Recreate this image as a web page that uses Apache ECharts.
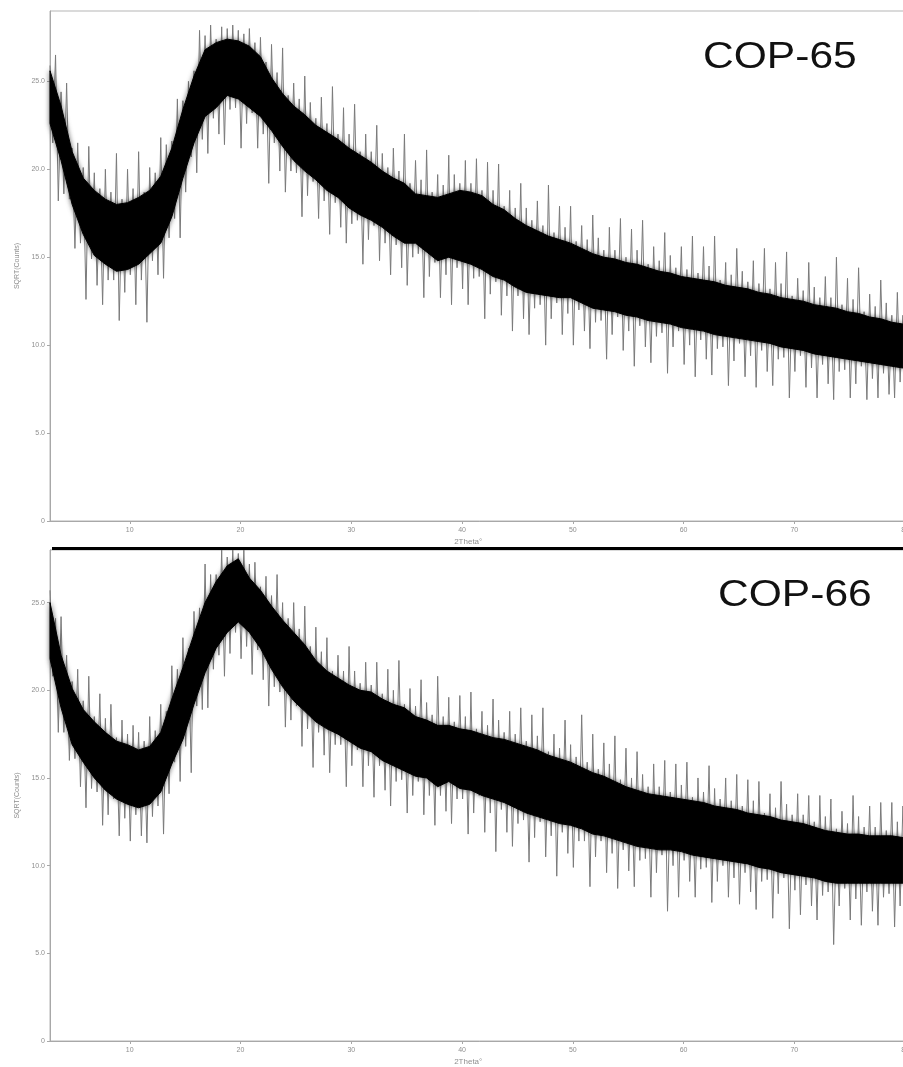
<!DOCTYPE html>
<html>
<head>
<meta charset="utf-8">
<script src="https://cdn.jsdelivr.net/npm/echarts@6/dist/echarts.min.js"></script>
<style>
html,body{margin:0;padding:0;background:#fff;overflow:hidden;width:903px;height:1067px;}
#chart{width:912px;height:1067px;}
</style>
</head>
<body>
<div id="chart"></div>
<script>
// ---- data ----
const panelLabels = ['COP-65', 'COP-66'];
const xTickValues = [10, 20, 30, 40, 50, 60, 70, 80];
const yTickValues = [0, 5, 10, 15, 20, 25];
const xAxisTitle = '2Theta°';
const yAxisTitle = 'SQRT(Counts)';
const xStart = 2.8;       // first sampled 2θ
const coreStep = 1;       // core band sampled every 1°
const spikeStep = 0.25;   // spike trace sampled every 0.25°

// COP-65 dense (black) band, lower and upper edge, 1° apart
const core65Low = [22.6,20.5,18.0,16.3,15.1,14.6,14.2,14.3,14.6,15.2,15.8,17.3,19.5,21.5,23.0,23.5,24.2,24.0,23.5,23.0,22.2,21.3,20.5,19.9,19.4,18.8,18.4,17.8,17.4,17.1,16.7,16.2,15.8,15.8,15.3,14.8,15.0,14.8,14.6,14.3,13.9,13.7,13.3,13.0,12.9,12.8,12.7,12.7,12.4,12.1,12.0,11.9,11.7,11.6,11.4,11.3,11.2,11.0,10.9,10.8,10.6,10.5,10.4,10.3,10.2,10.1,9.9,9.8,9.7,9.5,9.4,9.3,9.2,9.1,9.0,8.9,8.8,8.7];
const core65High = [25.6,23.6,21.0,19.5,18.8,18.3,18.0,18.1,18.4,18.8,19.6,21.2,23.4,25.3,26.8,27.2,27.4,27.3,27.0,26.4,25.2,24.3,23.6,23.1,22.5,22.1,21.7,21.2,20.8,20.4,19.9,19.5,19.2,18.6,18.5,18.4,18.6,18.8,18.7,18.5,18.0,17.7,17.2,16.8,16.5,16.2,16.0,15.8,15.5,15.2,15.0,14.9,14.7,14.6,14.4,14.2,14.1,13.9,13.8,13.7,13.6,13.4,13.3,13.2,13.0,12.9,12.7,12.6,12.5,12.3,12.2,12.1,11.9,11.8,11.6,11.5,11.3,11.2];
// COP-65 spike tips (alternating up / down), 0.25° apart
const spikes65 = [
25.9,21.5,26.5,18.2, 24.4,18.6,24.9,18.3, 21.2,15.5,21.5,15.8, 20.1,12.6,21.3,14.9, 19.8,13.4,18.9,12.3,
20.0,13.7,18.7,13.7, 20.9,11.4,18.3,13.0, 20.0,14.0,18.9,12.3, 21.0,13.7,18.7,11.3, 20.1,14.8,19.8,14.0,
21.8,13.8,21.4,16.1, 21.6,17.2,24.0,16.1, 23.9,18.7,25.0,20.7, 25.6,19.8,27.9,21.7, 27.6,20.9,28.2,22.9,
27.4,22.0,28.1,21.4, 28.0,23.4,28.2,23.5, 27.9,21.2,27.7,22.6, 28.0,23.2,27.2,21.2, 27.5,22.0,26.1,19.2,
27.1,21.5,25.5,19.9, 26.9,18.7,24.2,19.9, 24.9,19.8,24.0,17.3, 25.3,18.5,23.8,19.3, 22.9,17.2,24.1,18.2,
22.6,16.3,24.7,18.1, 22.0,16.7,23.5,15.8, 22.0,16.9,23.7,17.1, 21.0,14.6,22.0,16.0, 21.0,16.8,22.5,14.8,
20.9,15.8,20.1,14.0, 21.2,15.7,19.9,14.4, 22.0,13.4,19.2,15.0, 20.5,15.2,19.4,12.7, 21.1,13.9,18.7,14.7,
19.7,12.7,19.1,14.0, 20.8,12.3,19.7,14.4, 19.2,13.2,20.5,12.3, 19.2,13.8,20.6,13.9, 18.8,11.5,20.4,12.9,
18.8,13.6,20.3,11.7, 17.9,12.8,18.8,10.8, 17.8,12.8,19.2,11.5, 17.8,10.6,17.1,12.1, 18.2,12.3,16.8,10.0,
19.1,11.5,16.4,12.4, 17.9,10.6,16.7,11.8, 17.9,10.0,15.9,12.0, 16.8,10.8,16.0,9.8, 17.4,11.3,16.1,11.4,
15.4,9.2,16.7,10.6, 15.4,11.6,17.2,9.7, 15.0,10.8,16.6,8.8, 15.4,11.1,17.1,9.9, 14.6,9.0,15.6,10.5,
14.8,10.7,16.4,8.4, 15.1,9.9,14.4,10.8, 15.6,8.9,14.3,10.0, 16.2,8.2,14.1,10.3, 15.6,9.2,14.5,8.3,
16.2,9.8,13.7,9.9, 14.7,7.7,14.0,9.1, 15.5,10.1,14.2,8.2, 13.6,9.4,14.8,7.6, 13.5,9.7,15.5,8.5,
13.2,7.7,14.7,9.2, 13.5,9.3,15.3,7.0, 12.8,8.5,13.8,9.4, 13.1,7.6,14.7,8.7, 13.3,7.0,12.7,8.9,
13.9,7.8,12.7,6.9, 15.0,8.5,12.3,8.6, 13.8,7.0,12.6,7.8, 14.4,8.8,11.9,6.9, 12.9,8.1,12.2,7.0,
13.7,8.4,12.4,7.2, 11.7,7.0,13.0,7.9, 11.7,8.1,14.1
];

// COP-66 dense (black) band, lower and upper edge, 1° apart
const core66Low = [21.8,19.0,16.9,15.9,15.0,14.3,13.8,13.5,13.3,13.5,14.2,15.8,17.2,19.2,21.0,22.4,23.3,23.9,23.3,22.4,21.2,20.2,19.4,18.8,18.2,17.8,17.5,17.1,16.7,16.5,16.0,15.7,15.4,15.1,15.0,14.5,14.8,14.4,14.3,14.0,13.8,13.6,13.3,13.0,12.8,12.6,12.4,12.3,12.1,11.8,11.7,11.5,11.3,11.1,11.0,10.9,10.9,10.8,10.6,10.5,10.4,10.3,10.2,10.1,9.9,9.8,9.6,9.5,9.4,9.3,9.1,9.0,9.0,9.0,9.0,9.0,9.0,9.0];
const core66High = [25.0,22.0,20.1,18.9,18.2,17.6,17.1,16.9,16.6,16.8,17.6,19.5,21.3,23.2,25.0,26.2,27.1,27.5,26.4,25.7,24.8,24.0,23.3,22.6,21.7,21.1,20.7,20.3,20.0,19.9,19.5,19.2,19.0,18.5,18.3,18.0,18.0,17.8,17.7,17.5,17.3,17.2,17.0,16.8,16.6,16.3,16.1,15.9,15.6,15.3,15.1,14.8,14.5,14.3,14.1,14.0,13.9,13.8,13.7,13.6,13.4,13.3,13.2,13.0,12.9,12.8,12.6,12.5,12.4,12.2,12.0,11.9,11.8,11.8,11.7,11.7,11.7,11.6];
// COP-66 spike tips (alternating up / down), 0.25° apart
const spikes66 = [
25.7,20.8,24.1,17.6, 24.2,17.6,22.0,16.0, 20.5,16.1,21.2,14.5, 19.4,13.3,20.8,14.4, 18.5,14.2,19.8,12.3,
18.4,12.9,19.2,13.8, 17.3,11.7,18.3,12.7, 17.5,11.4,18.0,12.9, 17.6,11.7,17.1,11.3, 18.5,12.8,17.7,13.4,
19.2,11.8,18.8,14.1, 21.4,15.9,21.2,14.8, 23.0,16.8,22.4,15.3, 24.5,19.1,24.7,18.9, 27.2,19.0,26.6,21.2,
26.6,22.0,28.0,20.8, 27.6,22.1,28.0,23.3, 27.8,21.8,28.0,22.5, 27.2,20.9,27.3,22.3, 25.9,20.6,26.5,19.1,
25.4,20.2,26.6,19.9, 25.0,17.9,24.1,18.3, 25.0,19.1,23.5,16.8, 24.8,17.8,22.5,15.6, 23.6,17.6,22.2,16.3,
23.0,15.3,21.1,16.9, 22.0,16.9,21.1,14.5, 22.5,15.7,21.1,16.6, 20.4,14.5,21.6,15.7, 20.3,13.9,21.6,15.7,
19.8,14.3,21.2,13.4, 20.0,14.8,21.7,14.9, 19.2,13.0,20.1,14.0, 19.1,14.8,20.6,12.9, 19.3,14.0,18.6,12.3,
20.8,14.0,18.5,13.1, 19.6,12.4,18.2,13.8, 19.7,13.8,18.5,11.8, 19.9,13.0,17.8,14.0, 18.8,11.9,18.0,13.0,
19.5,10.8,18.3,13.2, 17.6,11.9,18.8,11.1, 17.5,12.4,19.0,12.6, 17.1,10.2,18.6,11.6, 17.4,12.5,19.0,10.5,
16.5,11.7,17.5,9.4, 16.7,11.9,18.3,10.7, 16.9,9.9,16.2,11.4, 18.6,11.4,15.9,8.8, 17.5,10.5,15.5,11.4,
17.0,9.6,15.8,10.7, 17.4,8.7,14.9,10.9, 16.7,9.7,15.0,8.8, 16.5,10.3,15.2,10.4, 14.5,8.2,15.8,9.6,
14.5,10.6,16.0,7.4, 14.2,10.0,15.8,8.2, 14.6,10.3,15.9,9.1, 13.9,8.2,15.0,9.8, 14.2,9.9,15.7,7.9,
14.4,9.1,13.8,10.0, 15.0,8.2,13.7,9.3, 15.2,7.8,13.4,9.6, 14.9,8.5,13.7,7.5, 14.8,9.1,13.0,9.2,
14.1,7.0,13.3,8.4, 14.8,9.3,13.5,6.4, 12.9,8.6,14.1,7.2, 12.9,8.9,14.0,7.7, 12.5,6.9,14.0,8.3,
12.8,8.5,13.8,5.5, 12.1,7.7,13.1,8.7, 12.4,6.9,14.0,8.1, 12.8,6.6,12.2,8.5, 13.4,7.4,12.2,6.6,
13.6,8.2,12.0,8.4, 13.6,6.5,12.5,7.7, 13.4,8.7,11.8
];

// ---- build series ----
function pairs(values, step) {
  return values.map((v, i) => [+(xStart + i * step).toFixed(2), v]);
}
// one data row per band sample: [x, low, high]
function bandRows(low, high) {
  return low.map((l, i) => [+(xStart + i * coreStep).toFixed(2), l, high[i]]);
}

const grey = '#8f8f8f';
function xAxisFor(gi) {
  return {
    type: 'value', gridIndex: gi, min: 2.8, max: 80.3,
    name: xAxisTitle, nameLocation: 'middle', nameGap: 17,
    nameTextStyle: { color: grey, fontSize: 8, fontFamily: 'Liberation Sans', padding: [0, 22, 0, 0] },
    axisLine: { show: true, onZero: false, lineStyle: { color: '#a8a8a8', width: 1 } },
    axisTick: { show: true, length: 3, customValues: xTickValues, lineStyle: { color: '#a8a8a8' } },
    axisLabel: { customValues: xTickValues, color: grey, fontSize: 7, fontFamily: 'Liberation Sans', margin: 6,
      formatter: v => (v % 10 === 0 ? String(v) : '') },
    splitLine: { show: false }
  };
}
function yAxisFor(gi, max) {
  return {
    type: 'value', gridIndex: gi, min: 0, max: max,
    name: yAxisTitle, nameLocation: 'middle', nameGap: 28, nameRotate: 90,
    nameTextStyle: { color: grey, fontSize: 7, fontFamily: 'Liberation Sans' },
    axisLine: { show: true, lineStyle: { color: '#a8a8a8', width: 1 } },
    axisTick: { show: true, length: 3, customValues: yTickValues, lineStyle: { color: '#a8a8a8' } },
    axisLabel: { customValues: yTickValues, color: grey, fontSize: 7, fontFamily: 'Liberation Sans', margin: 5,
      formatter: v => (v === 0 ? '0' : (v % 5 === 0 ? v.toFixed(1) : '')) },
    splitLine: { show: false }
  };
}
function seriesFor(gi, spikes, low, high) {
  const rows = bandRows(low, high);
  return [
    { type: 'line', xAxisIndex: gi, yAxisIndex: gi, data: pairs(spikes, spikeStep),
      showSymbol: false, symbol: 'none', lineStyle: { color: '#7a7a7a', width: 1 }, z: 2, silent: true },
    { type: 'custom', xAxisIndex: gi, yAxisIndex: gi, data: rows, z: 3, silent: true,
      encode: { x: 0, y: [1, 2] },
      renderItem: function (params, api) {
        if (params.dataIndex !== 0) return null;
        const upper = rows.map(r => api.coord([r[0], r[2]]));
        const lower = rows.slice().reverse().map(r => api.coord([r[0], r[1]]));
        return {
          type: 'polygon',
          shape: { points: upper.concat(lower) },
          style: { fill: '#000', stroke: '#000', lineWidth: 1, shadowBlur: 5, shadowColor: 'rgba(0,0,0,0.55)' }
        };
      }
    }
  ];
}

const chart = echarts.init(document.getElementById('chart'), null, { renderer: 'canvas' });
chart.setOption({
  animation: false,
  backgroundColor: '#fff',
  grid: [
    { left: 50, top: 11, width: 862, height: 510, show: true, borderColor: '#b5b5b5', borderWidth: 1, backgroundColor: 'transparent' },
    { left: 50, top: 550, width: 862, height: 492, show: true, borderColor: '#b5b5b5', borderWidth: 1, backgroundColor: 'transparent' }
  ],
  xAxis: [xAxisFor(0), xAxisFor(1)],
  yAxis: [yAxisFor(0, 29), yAxisFor(1, 28)],
  series: [].concat(
    seriesFor(0, spikes65, core65Low, core65High),
    seriesFor(1, spikes66, core66Low, core66High)
  ),
  graphic: [
    { type: 'rect', left: 52, top: 547, shape: { width: 860, height: 3 }, style: { fill: '#000' }, z: 10 },
    { type: 'text', x: 703, y: 58, scaleX: 1.15, z: 10,
      style: { text: panelLabels[0], fill: '#111', font: '37px "Liberation Sans", Arial, sans-serif', verticalAlign: 'middle', align: 'left' } },
    { type: 'text', x: 718, y: 596, scaleX: 1.15, z: 10,
      style: { text: panelLabels[1], fill: '#111', font: '37px "Liberation Sans", Arial, sans-serif', verticalAlign: 'middle', align: 'left' } }
  ]
});
</script>
</body>
</html>
